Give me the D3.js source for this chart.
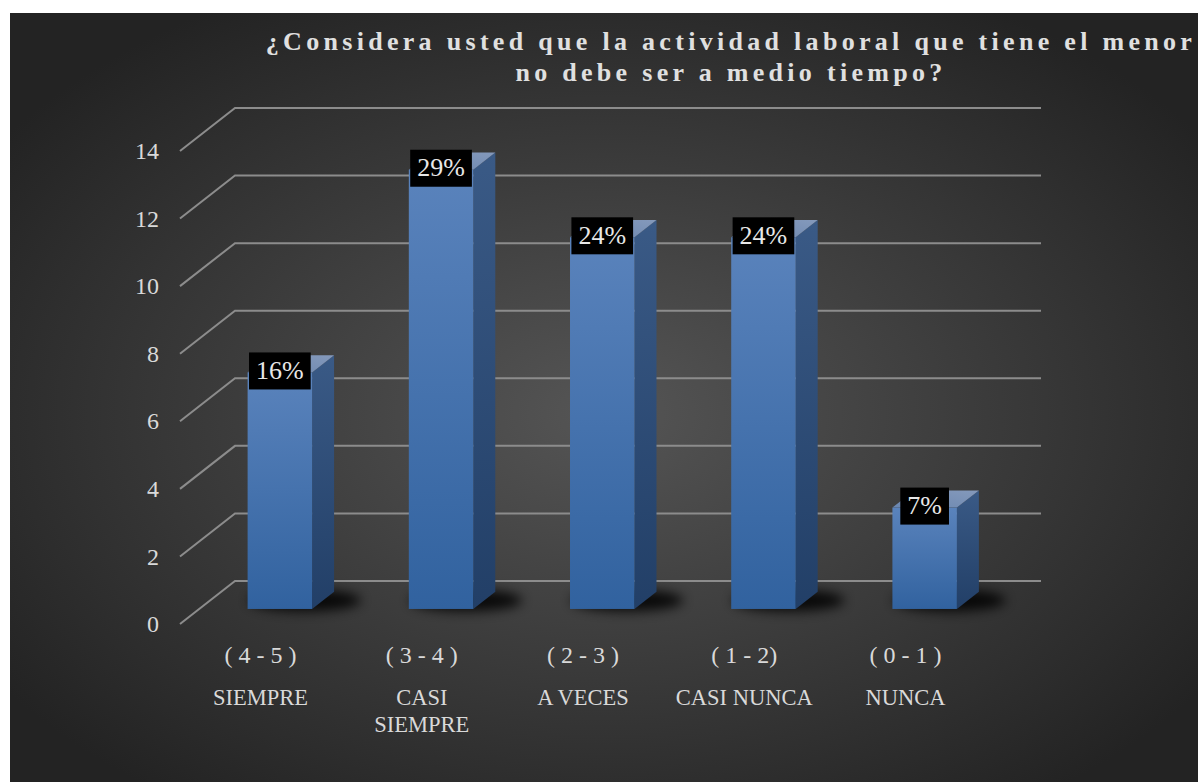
<!DOCTYPE html>
<html lang="es">
<head>
<meta charset="UTF-8">
<title>Chart</title>
<script src="https://d3js.org/d3.v7.min.js"></script>
<style>
  body { margin: 0; background: #fff; }
  svg text { font-family: "Liberation Serif", "DejaVu Serif", serif; }
</style>
</head>
<body>
<script>
// data
var rangos = ["( 4 - 5 )", "( 3 - 4 )", "( 2 - 3 )", "( 1 - 2)", "( 0 - 1 )"];
var categorias = [["SIEMPRE"], ["CASI", "SIEMPRE"], ["A VECES"], ["CASI NUNCA"], ["NUNCA"]];
var valores = [7, 13, 11, 11, 3];
var porcentajes = ["16%", "29%", "24%", "24%", "7%"];
var yTicks = [0, 2, 4, 6, 8, 10, 12, 14];

var width = 1198, height = 782;
var depthX = 55, depthY = 43;   // floor depth offset
var zFront = 0.65, zBack = 0.25; // bar position inside the depth

var svg = d3.select("body").append("svg").attr("width", width).attr("height", height);
var defs = svg.append("defs");

// fondo
var bg = defs.append("radialGradient").attr("id", "bg").attr("cx", "50%").attr("cy", "52%").attr("r", "62%");
bg.append("stop").attr("offset", "0%").attr("stop-color", "#555555");
bg.append("stop").attr("offset", "100%").attr("stop-color", "#232323");

var front = defs.append("linearGradient").attr("id", "front").attr("x1", 0).attr("y1", 0).attr("x2", 0).attr("y2", 1);
front.append("stop").attr("offset", "0%").attr("stop-color", "#5a83bc");
front.append("stop").attr("offset", "100%").attr("stop-color", "#31629f");

var side = defs.append("linearGradient").attr("id", "side").attr("x1", 0).attr("y1", 0).attr("x2", 0).attr("y2", 1);
side.append("stop").attr("offset", "0%").attr("stop-color", "#3a5a86");
side.append("stop").attr("offset", "100%").attr("stop-color", "#223f67");

var top_ = defs.append("linearGradient").attr("id", "topf").attr("x1", 0).attr("y1", 1).attr("x2", 1).attr("y2", 0);
top_.append("stop").attr("offset", "0%").attr("stop-color", "#6a86b0");
top_.append("stop").attr("offset", "100%").attr("stop-color", "#8499bb");

defs.append("filter").attr("id", "blur").attr("x", "-50%").attr("y", "-100%").attr("width", "200%").attr("height", "300%")
  .append("feGaussianBlur").attr("stdDeviation", 6);

svg.append("rect").attr("x", 10).attr("y", 13).attr("width", width - 10).attr("height", height - 13).attr("fill", "url(#bg)");

// escalas (plano del fondo)
var x = d3.scaleBand().domain(d3.range(valores.length)).range([235, 1041]).paddingInner(0.6).paddingOuter(0.3);
var y = d3.scaleLinear().domain([0, 14]).range([581, 108]);
var yFront = d3.scaleLinear().domain([0, 14]).range([581 + depthY, 108 + depthY]);

function proj(px, py, z) { return [px - z * depthX, py + z * depthY]; }

// rejilla
svg.append("g").selectAll("path").data(yTicks).enter().append("path")
  .attr("d", function(d) {
    var a = proj(235, y(d), 1), b = proj(235, y(d), 0);
    return "M" + a + "L" + b + "L1041," + y(d);
  })
  .attr("fill", "none").attr("stroke", "#8c8c8c").attr("stroke-width", 2);

// eje Y
var yAxis = svg.append("g").attr("transform", "translate(163,0)")
  .call(d3.axisLeft(yFront).tickValues(yTicks).tickSize(0).tickPadding(4));
yAxis.select(".domain").remove();
yAxis.selectAll("text").attr("fill", "#d9d9d9").style("font-size", "24px").style("font-family", "Liberation Serif, serif");

// sombras
svg.append("g").selectAll("ellipse").data(valores).enter().append("ellipse")
  .attr("cx", function(d, i) { return x(i) + x.bandwidth() / 2 - 0.45 * depthX + 14; })
  .attr("cy", y(0) + 0.45 * depthY)
  .attr("rx", 56).attr("ry", 11)
  .attr("fill", "#000").attr("opacity", 0.85).attr("filter", "url(#blur)");

// barras
var bars = svg.append("g").selectAll("g").data(valores).enter().append("g");

bars.append("path").attr("fill", "url(#side)")
  .attr("d", function(d, i) {
    var x1 = x(i) + x.bandwidth();
    return "M" + proj(x1, y(0), zFront) + "L" + proj(x1, y(0), zBack) + "L" + proj(x1, y(d), zBack) + "L" + proj(x1, y(d), zFront) + "Z";
  });

bars.append("path").attr("fill", "url(#topf)")
  .attr("d", function(d, i) {
    var x0 = x(i), x1 = x(i) + x.bandwidth();
    return "M" + proj(x0, y(d), zFront) + "L" + proj(x0, y(d), zBack) + "L" + proj(x1, y(d), zBack) + "L" + proj(x1, y(d), zFront) + "Z";
  });

bars.append("rect").attr("fill", "url(#front)")
  .attr("x", function(d, i) { return proj(x(i), 0, zFront)[0]; })
  .attr("y", function(d) { return proj(0, y(d), zFront)[1]; })
  .attr("width", x.bandwidth())
  .attr("height", function(d) { return y(0) - y(d); });

// etiquetas de porcentaje
bars.each(function(d, i) {
  var g = d3.select(this);
  var c = proj(x(i) + x.bandwidth() / 2, y(d), zFront);
  var t = g.append("text").attr("x", c[0]).attr("y", c[1] - 2)
    .attr("text-anchor", "middle").attr("dominant-baseline", "central")
    .attr("fill", "#e8e8e8").style("font-size", "26px").text(porcentajes[i]);
  var w = t.node().getComputedTextLength() + 14;
  g.insert("rect", "text").attr("x", c[0] - w / 2).attr("y", c[1] - 20).attr("width", w).attr("height", 37).attr("fill", "#000");
});

// etiquetas X
var xl = svg.append("g").selectAll("g").data(valores).enter().append("g")
  .attr("transform", function(d, i) { return "translate(" + (x(i) + x.bandwidth() / 2 - depthX) + ",0)"; });
xl.append("text").attr("y", 663).attr("text-anchor", "middle").attr("fill", "#d9d9d9").style("font-size", "24px")
  .text(function(d, i) { return rangos[i]; });
xl.each(function(d, i) {
  var g = d3.select(this);
  categorias[i].forEach(function(s, k) {
    g.append("text").attr("y", 705 + k * 27).attr("text-anchor", "middle").attr("fill", "#d9d9d9")
      .style("font-size", "22.5px").text(s);
  });
});

// titulo
var titulo = ["¿Considera usted que la actividad laboral que tiene el menor", "no debe ser a medio tiempo?"];
svg.append("g").selectAll("text").data(titulo).enter().append("text")
  .attr("x", 731).attr("y", function(d, i) { return 50 + i * 31; })
  .attr("text-anchor", "middle").attr("fill", "#e0e0e0")
  .style("font-size", "26px").style("font-weight", "bold").style("letter-spacing", "4.3px")
  .text(function(d) { return d; });
</script>
</body>
</html>
